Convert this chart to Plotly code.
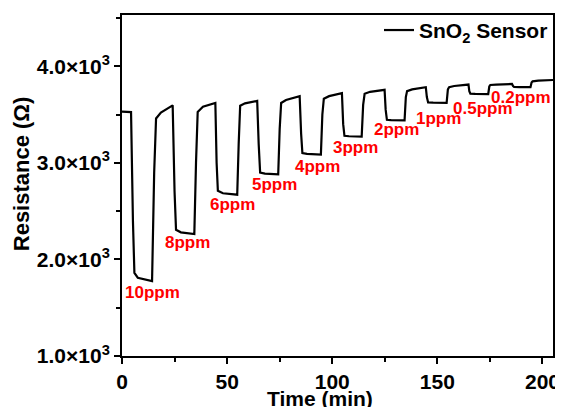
import plotly.graph_objects as go

# Time (min) and resistance (ohm)
time_min = [
    0, 4.3,
    5.2, 5.9, 7.5, 14.3,
    15.3, 16.2, 18.5, 24.1,
    25.0, 25.7, 28, 34.4,
    35.2, 36.0, 38.5, 44.4,
    45.0, 45.6, 48, 54.8,
    55.5, 56.2, 58.5, 64.3,
    65.0, 65.7, 68, 74.3,
    75.0, 75.7, 78, 84.5,
    85.2, 85.8, 88, 94.6,
    95.3, 96.0, 98.5, 104.6,
    105.2, 105.8, 108, 114.0,
    114.7, 115.4, 118, 124.9,
    125.4, 126.0, 128, 134.4,
    135.0, 135.6, 138, 144.5,
    145.0, 145.6, 148, 154.4,
    155.0, 155.6, 158, 164.8,
    165.2, 165.7, 168, 174.2,
    174.7, 175.2, 178, 185.5,
    186.0, 186.5, 189, 194.3,
    194.8, 195.3, 198, 205,
]
resistance = [
    3530, 3525,
    2400, 1860, 1810, 1776,
    2900, 3459, 3520, 3595,
    2700, 2306, 2280, 2262,
    3000, 3527, 3580, 3619,
    3000, 2711, 2685, 2670,
    3200, 3590, 3615, 3641,
    3200, 2898, 2888, 2880,
    3350, 3619, 3650, 3690,
    3300, 3100, 3092, 3085,
    3500, 3663, 3690, 3721,
    3400, 3280, 3275, 3270,
    3600, 3714, 3735, 3755,
    3550, 3445, 3442, 3440,
    3680, 3742, 3760, 3783,
    3680, 3625, 3622, 3620,
    3760, 3783, 3795, 3810,
    3740, 3715, 3713, 3712,
    3790, 3806, 3810, 3816,
    3795, 3785, 3784, 3783,
    3830, 3843, 3850, 3857,
]

# Concentration labels and their positions
conc_labels = ["10ppm", "8ppm", "6ppm", "5ppm", "4ppm", "3ppm", "2ppm", "1ppm", "0.5ppm", "0.2ppm"]
label_t = [14.4, 31.0, 52.7, 72.5, 92.9, 111.2, 130.5, 150.3, 171.7, 190.0]
label_r = [1653, 2173, 2568, 2772, 2966, 3163, 3340, 3459, 3561, 3680]

x_ticks = [0, 50, 100, 150, 200]
y_ticks = [1000, 2000, 3000, 4000]
y_ticktext = ["1.0×10<sup>3</sup>", "2.0×10<sup>3</sup>", "3.0×10<sup>3</sup>", "4.0×10<sup>3</sup>"]

FONT = "Liberation Sans, Arial, sans-serif"

fig = go.Figure()
fig.add_trace(go.Scatter(
    x=time_min, y=resistance, mode="lines",
    line=dict(color="black", width=2.2),
    name="SnO<sub>2</sub> Sensor",
))

for txt, t, r in zip(conc_labels, label_t, label_r):
    fig.add_annotation(x=t, y=r, xref="x", yref="y", text=txt, showarrow=False,
                       font=dict(family=FONT, size=17, color="red", weight="bold"))

# axis titles
fig.add_annotation(x=0.46, y=0, xref="paper", yref="paper", yanchor="top", yshift=-29,
                   text="Time (min)", showarrow=False,
                   font=dict(family=FONT, size=21, color="black", weight="bold"))
fig.add_annotation(x=0, y=0.533, xref="paper", yref="paper", xanchor="center", xshift=-101,
                   text="Resistance (Ω)", textangle=-90, showarrow=False,
                   font=dict(family=FONT, size=22, color="black", weight="bold"))

# page body adds an 8px offset, so the figure is 8px smaller than the window
fig.update_layout(
    template="none",
    width=555, height=399,
    margin=dict(l=114, r=10, t=2, b=51),
    paper_bgcolor="white", plot_bgcolor="white",
    showlegend=True,
    legend=dict(x=1, y=1.015, xanchor="right", yanchor="top", bgcolor="rgba(0,0,0,0)",
                font=dict(family=FONT, size=21, color="black", weight="bold"),
                borderwidth=0),
    font=dict(family=FONT, color="black"),
)
fig.update_xaxes(
    range=[0, 205], tickvals=x_ticks, showgrid=False, zeroline=False, automargin=False,
    showline=True, linecolor="black", linewidth=2, mirror=True,
    ticks="outside", ticklen=6, tickwidth=1.5, tickcolor="black",
    minor=dict(dtick=25, tick0=0, ticks="outside", ticklen=4, tickwidth=1.5, tickcolor="black"),
    tickfont=dict(family=FONT, size=21, color="black", weight="bold"),
)
fig.update_yaxes(
    range=[1000, 4530], tickvals=y_ticks, ticktext=y_ticktext, showgrid=False, zeroline=False,
    automargin=False,
    showline=True, linecolor="black", linewidth=2, mirror=True,
    ticks="outside", ticklen=6, tickwidth=1.5, tickcolor="black",
    minor=dict(dtick=500, tick0=1000, ticks="outside", ticklen=4, tickwidth=1.5, tickcolor="black"),
    tickfont=dict(family=FONT, size=21, color="black", weight="bold"),
)

fig.write_html("out.html")
